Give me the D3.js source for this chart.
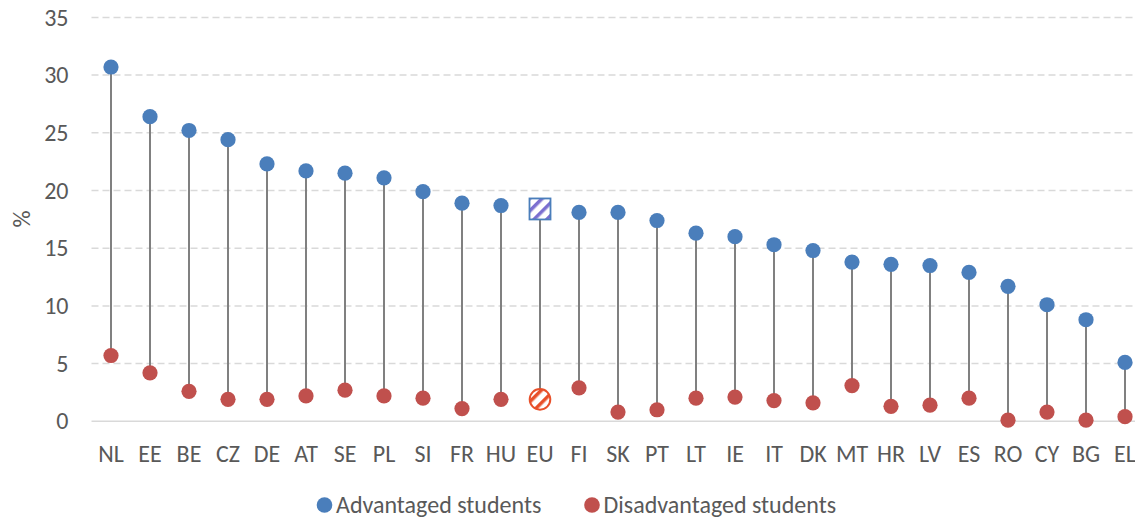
<!DOCTYPE html>
<html>
<head>
<meta charset="utf-8">
<script src="https://cdn.jsdelivr.net/npm/d3@7"></script>
<style>
  html, body { margin: 0; padding: 0; background: #fff; }
  svg { display: block; }
  text { font-family: Calibri, Carlito, "Open Sans", sans-serif; fill: #595959; }
</style>
</head>
<body>
<svg id="chart" width="1135" height="517"></svg>
<script>
// Share of students (%) by country, advantaged vs disadvantaged background
const countries = ["NL","EE","BE","CZ","DE","AT","SE","PL","SI","FR","HU","EU","FI","SK","PT","LT","IE","IT","DK","MT","HR","LV","ES","RO","CY","BG","EL"];
const advantaged = [30.7,26.4,25.2,24.4,22.3,21.7,21.5,21.1,19.9,18.9,18.7,18.4,18.1,18.1,17.4,16.3,16.0,15.3,14.8,13.8,13.6,13.5,12.9,11.7,10.1,8.8,5.1];
const disadvantaged = [5.7,4.2,2.6,1.9,1.9,2.2,2.7,2.2,2.0,1.1,1.9,1.9,2.9,0.8,1.0,2.0,2.1,1.8,1.6,3.1,1.3,1.4,2.0,0.1,0.8,0.1,0.4];
const yTicks = [0,5,10,15,20,25,30,35];
const seriesNames = ["Advantaged students","Disadvantaged students"];
const aggregate = "EU";

const blue = "#4a7ebb", red = "#c0504d", stem = "#808080", grid = "#d9d9d9";
const fontSize = 24;
const fontFamily = "Calibri, Carlito, 'Open Sans', sans-serif";

const svg = d3.select("#chart");

const x = d3.scaleBand().domain(countries).range([91.5, 1144.5]).padding(0);
const y = d3.scaleLinear().domain([0, 35]).range([421.3, 17.4]);
const cx = c => x(c) + x.bandwidth() / 2;

// hatch patterns for the aggregate markers
const defs = svg.append("defs");
function hatch(id, color) {
  const p = defs.append("pattern").attr("id", id)
    .attr("patternUnits", "userSpaceOnUse").attr("width", 9).attr("height", 9)
    .attr("patternTransform", "rotate(-45)");
  p.append("rect").attr("width", 9).attr("height", 9).attr("fill", "#fff");
  p.append("rect").attr("x", 0).attr("y", 0).attr("width", 9).attr("height", 3.5).attr("fill", color);
}
hatch("hatchBlue", "#7b6fd0");
hatch("hatchRed", "#e8502a");

// value axis labels
const yAxis = d3.axisLeft(y).tickValues(yTicks).tickSize(0).tickPadding(0);
const gy = svg.append("g").attr("transform", "translate(68.5,0)").call(yAxis);
gy.select(".domain").remove();
gy.selectAll("text").attr("font-size", fontSize).attr("text-anchor", "end")
  .attr("font-family", fontFamily).style("fill", "#595959");

// horizontal gridlines
svg.append("g").selectAll("line").data(yTicks).join("line")
  .attr("x1", 91.5).attr("x2", 1135)
  .attr("y1", d => y(d)).attr("y2", d => y(d))
  .attr("stroke", grid).attr("stroke-width", 1.5)
  .attr("stroke-dasharray", d => d === 0 ? null : "7,4");

// axis title
svg.append("text").attr("transform", "translate(21.5,219) rotate(-90)")
  .attr("text-anchor", "middle").attr("dy", "0.35em").attr("font-size", fontSize).text("%");

// category labels
const xAxis = d3.axisBottom(x).tickSize(0).tickPadding(0);
const gx = svg.append("g").call(xAxis);
gx.select(".domain").remove();
gx.selectAll("text").attr("font-size", fontSize).attr("y", 461.5).attr("dy", null)
  .attr("font-family", fontFamily).style("fill", "#595959");

// stems
const rows = countries.map((c, i) => ({ c, a: advantaged[i], d: disadvantaged[i] }));
svg.append("g").selectAll("line").data(rows).join("line")
  .attr("x1", d => cx(d.c)).attr("x2", d => cx(d.c))
  .attr("y1", d => y(d.a)).attr("y2", d => y(d.d))
  .attr("stroke", stem).attr("stroke-width", 2);

// disadvantaged markers
const g = svg.append("g");
g.selectAll("circle.dis").data(rows.filter(d => d.c !== aggregate)).join("circle")
  .attr("class", "dis").attr("cx", d => cx(d.c)).attr("cy", d => y(d.d)).attr("r", 7.6).attr("fill", red);
// advantaged markers
g.selectAll("circle.adv").data(rows.filter(d => d.c !== aggregate)).join("circle")
  .attr("class", "adv").attr("cx", d => cx(d.c)).attr("cy", d => y(d.a)).attr("r", 7.6).attr("fill", blue);

// aggregate markers
const eu = rows.find(d => d.c === aggregate);
g.append("rect").attr("x", cx(eu.c) - 10.5).attr("y", y(eu.a) - 10.5)
  .attr("width", 21).attr("height", 21)
  .attr("fill", "url(#hatchBlue)").attr("stroke", blue).attr("stroke-width", 1.8);
g.append("circle").attr("cx", cx(eu.c)).attr("cy", y(eu.d)).attr("r", 10.3)
  .attr("fill", "url(#hatchRed)").attr("stroke", "#e8502a").attr("stroke-width", 2);

// legend
const legend = svg.append("g");
const legendItems = [
  { name: seriesNames[0], color: blue, x: 324.5 },
  { name: seriesNames[1], color: red, x: 592 }
];
legendItems.forEach(it => {
  legend.append("circle").attr("cx", it.x).attr("cy", 505).attr("r", 7.8).attr("fill", it.color);
  legend.append("text").attr("x", it.x + 11.5).attr("y", 512.5).attr("font-size", fontSize).text(it.name);
});
</script>
</body>
</html>
